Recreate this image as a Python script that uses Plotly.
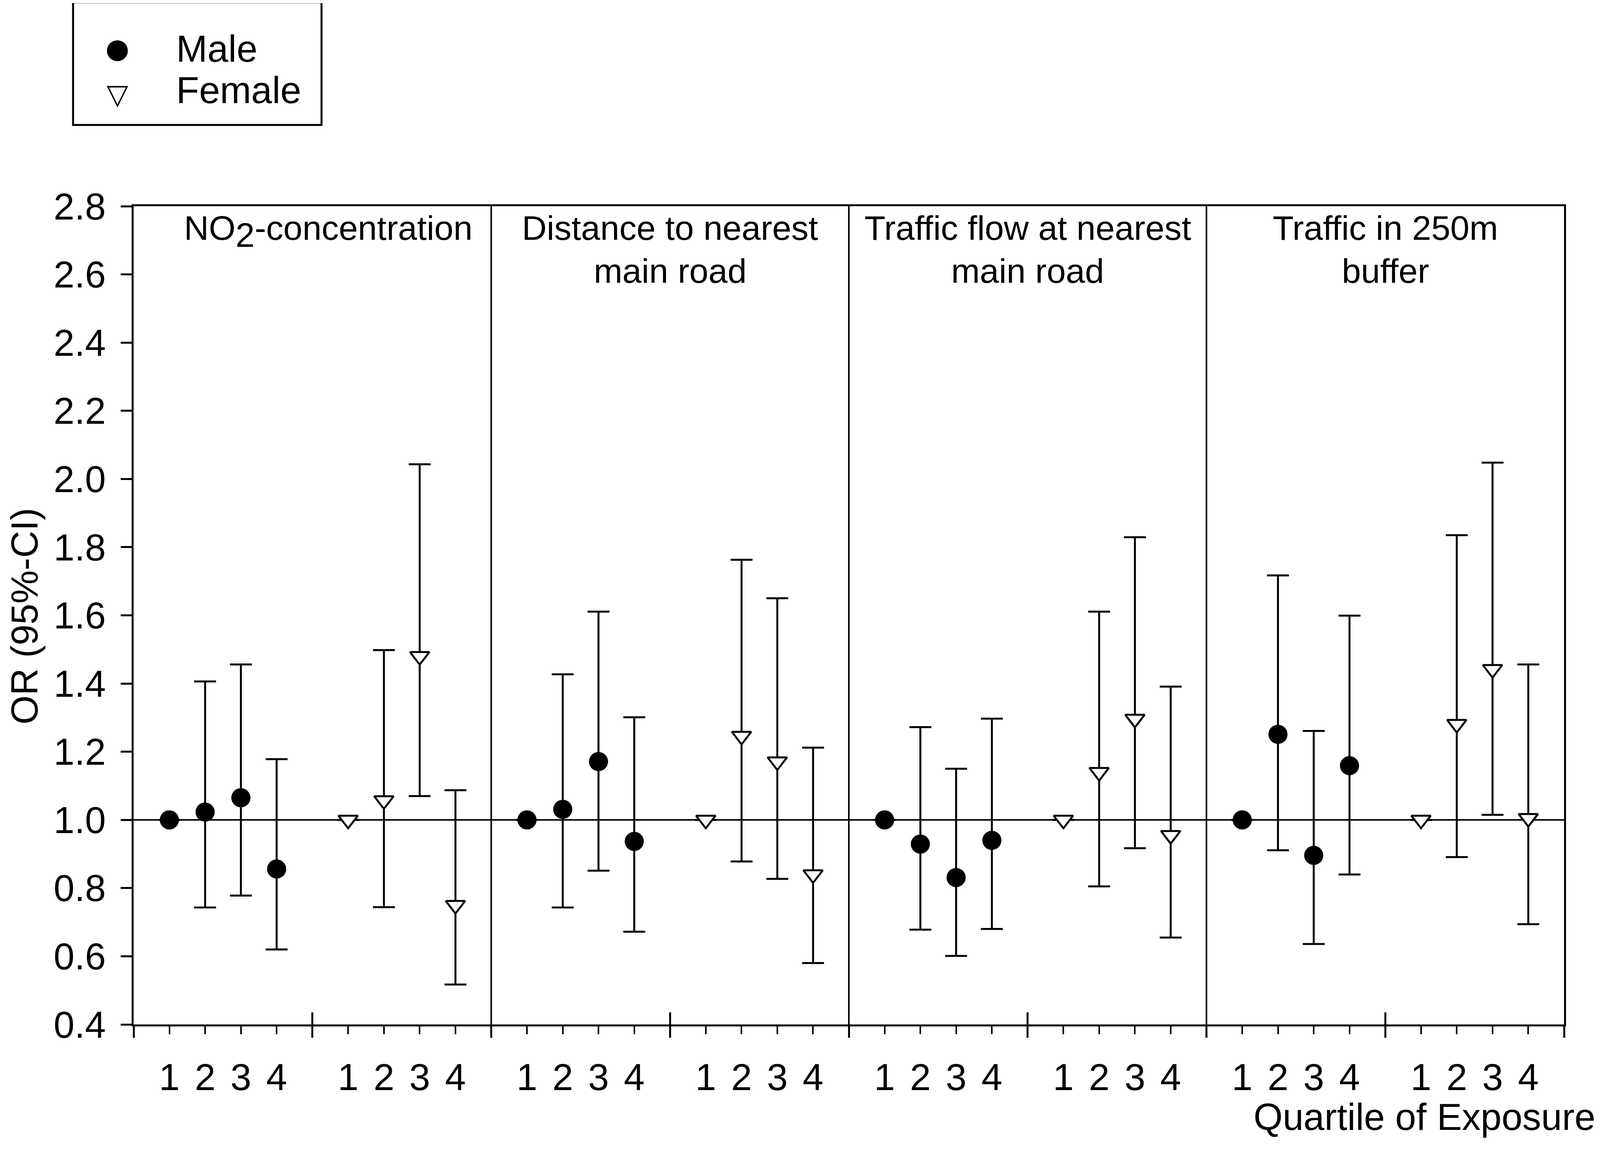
import plotly.graph_objects as go

# ---------------- data ----------------
exposures_line1 = ["NO<sub><span style=\"font-size:88px\">2</span></sub>-concentration",
                   "Distance to nearest", "Traffic flow at nearest", "Traffic in 250m"]
exposures_line2 = ["", "main road", "main road", "buffer"]
quartile_labels = ["1", "2", "3", "4"]
sexes = ["Male", "Female"]

# odds ratios per exposure (4 panels) and quartile (Q1 = reference)
male_or = [[1.00, 1.023, 1.065, 0.856],
           [1.00, 1.031, 1.171, 0.937],
           [1.00, 0.929, 0.831, 0.940],
           [1.00, 1.251, 0.896, 1.159]]
male_lo = [[None, 0.743, 0.778, 0.620],
           [None, 0.743, 0.851, 0.672],
           [None, 0.678, 0.601, 0.680],
           [None, 0.911, 0.636, 0.840]]
male_hi = [[None, 1.406, 1.456, 1.178],
           [None, 1.427, 1.611, 1.301],
           [None, 1.272, 1.150, 1.297],
           [None, 1.717, 1.261, 1.599]]

female_or = [[1.00, 1.057, 1.480, 0.750],
             [1.00, 1.246, 1.171, 0.840],
             [1.00, 1.140, 1.296, 0.955],
             [1.00, 1.281, 1.442, 1.005]]
female_lo = [[None, 0.744, 1.070, 0.517],
             [None, 0.878, 0.827, 0.580],
             [None, 0.805, 0.917, 0.655],
             [None, 0.891, 1.015, 0.694]]
female_hi = [[None, 1.498, 2.043, 1.087],
             [None, 1.763, 1.650, 1.212],
             [None, 1.611, 1.829, 1.391],
             [None, 1.835, 2.048, 1.456]]

y_ticks = [0.4, 0.6, 0.8, 1.0, 1.2, 1.4, 1.6, 1.8, 2.0, 2.2, 2.4, 2.6, 2.8]
reference_or = 1.0

# ---------------- sizing ----------------
VIEW_W = 4096                 # usable page width observed in the renderer
FX = VIEW_W / 4786            # horizontal compression versus the reference
FONT = "Arial, Liberation Sans, sans-serif"
FS = 96                       # general text size
FS_TITLE = 88                 # panel titles (must fit in the narrower panels)
n_panels = len(male_or)
group_width = 5               # one group of 4 quartiles + gap
panel_width = 2 * group_width
x_max = n_panels * panel_width


def positions(group):
    return [p * panel_width + group * group_width + q + 1
            for p in range(n_panels) for q in range(len(quartile_labels))]


def flat(rows):
    return [v for r in rows for v in r]


def err_plus(ors, his):
    return [None if h is None else h - o for o, h in zip(flat(ors), flat(his))]


def err_minus(ors, los):
    return [None if l is None else o - l for o, l in zip(flat(ors), flat(los))]


fig = go.Figure()

fig.add_trace(go.Scatter(
    x=positions(0), y=flat(male_or), mode="markers", name=sexes[0],
    marker=dict(symbol="circle", size=49, color="black", line=dict(width=0)),
    error_y=dict(type="data", symmetric=False,
                 array=err_plus(male_or, male_hi),
                 arrayminus=err_minus(male_or, male_lo),
                 color="black", thickness=5, width=28),
    showlegend=False))

fig.add_trace(go.Scatter(
    x=positions(1), y=flat(female_or), mode="markers", name=sexes[1],
    marker=dict(symbol="triangle-down", size=43, color="white",
                line=dict(width=5, color="black")),
    error_y=dict(type="data", symmetric=False,
                 array=err_plus(female_or, female_hi),
                 arrayminus=err_minus(female_or, female_lo),
                 color="black", thickness=5, width=28),
    showlegend=False))

# reference line and panel dividers
fig.add_hline(y=reference_or, line=dict(color="black", width=4), layer="below")
for p in range(1, n_panels):
    fig.add_vline(x=p * panel_width, line=dict(color="black", width=4), layer="below")

label_pos = positions(0) + positions(1)
label_txt = quartile_labels * n_panels * 2
major_pos = [k * group_width for k in range(2 * n_panels + 1)]
mid_pos = [p * panel_width + group_width for p in range(n_panels)]

common_x = dict(range=[0, x_max], showgrid=False, zeroline=False)
fig.update_layout(
    autosize=True, height=2947 - 16,
    margin=dict(l=round(400 * FX) - 8, r=round(108 * FX) - 8 + (VIEW_W - round(4786 * FX)),
                t=528 - 8, b=324 - 8, pad=0),
    paper_bgcolor="white", plot_bgcolor="white",
    font=dict(family=FONT, size=FS, color="black"),
    xaxis=dict(**common_x, tickmode="array", tickvals=label_pos, ticktext=label_txt,
               ticks="outside", ticklen=20, tickwidth=4, tickcolor="black",
               showline=True, linewidth=5, linecolor="black", mirror=True,
               tickfont=dict(size=FS), ticklabelstandoff=28),
    xaxis2=dict(**common_x, overlaying="x", anchor="y", side="bottom",
                tickmode="array", tickvals=major_pos, ticks="outside",
                ticklen=33, tickwidth=5, tickcolor="black",
                showticklabels=False, showline=False),
    xaxis3=dict(**common_x, overlaying="x", anchor="y", side="bottom",
                tickmode="array", tickvals=mid_pos, ticks="inside",
                ticklen=31, tickwidth=5, tickcolor="black",
                showticklabels=False, showline=False),
    yaxis=dict(range=[y_ticks[0], y_ticks[-1]], tickmode="array", tickvals=y_ticks,
               ticktext=[f"{v:.1f}" for v in y_ticks],
               ticks="outside", ticklen=28, tickwidth=5, tickcolor="black",
               showline=True, linewidth=5, linecolor="black", mirror=True,
               showgrid=False, zeroline=False, tickfont=dict(size=FS),
               ticklabelstandoff=19),
)

# dummy traces so the overlaying tick axes render
fig.add_trace(go.Scatter(x=[None], y=[None], xaxis="x2", showlegend=False, hoverinfo="skip"))
fig.add_trace(go.Scatter(x=[None], y=[None], xaxis="x3", showlegend=False, hoverinfo="skip"))

# panel titles
title_x = [p * panel_width + group_width for p in range(n_panels)]
title_x[0] += 0.45
title_y1 = [0.9690, 0.9733, 0.9733, 0.9733]
for tx, ty, l1, l2 in zip(title_x, title_y1, exposures_line1, exposures_line2):
    fig.add_annotation(x=tx, xref="x", y=ty, yref="paper", text=l1,
                       showarrow=False, xanchor="center", yanchor="middle",
                       font=dict(size=FS_TITLE))
    if l2:
        fig.add_annotation(x=tx, xref="x", y=0.9208, yref="paper", text=l2,
                           showarrow=False, xanchor="center", yanchor="middle",
                           font=dict(size=FS_TITLE))

# axis titles
fig.add_annotation(x=-0.0762, xref="paper", y=0.4993, yref="paper",
                   text="OR (95%-CI)", textangle=-90, showarrow=False,
                   xanchor="center", yanchor="middle", font=dict(size=FS))
fig.add_annotation(x=1.0225, xref="paper", y=-0.1131, yref="paper",
                   text="Quartile of Exposure", showarrow=False,
                   xanchor="right", yanchor="middle", font=dict(size=FS))

# legend box (framed key)
fig.add_shape(type="rect", xref="paper", yref="paper",
              x0=-0.04231, x1=0.13137, y0=1.09928, y1=1.24916,
              line=dict(color="black", width=5), fillcolor="white")
fig.add_annotation(x=-0.01122, xref="paper", y=1.1928, yref="paper", text="\u25CF",
                   showarrow=False, xanchor="center", yanchor="middle",
                   font=dict(size=70, family="DejaVu Sans"))
fig.add_annotation(x=-0.01122, xref="paper", y=1.1370, yref="paper", text="\u25BD",
                   showarrow=False, xanchor="center", yanchor="middle",
                   font=dict(size=72, family="DejaVu Sans"))
fig.add_annotation(x=0.02922, xref="paper", y=1.1928, yref="paper", text=sexes[0],
                   showarrow=False, xanchor="left", yanchor="middle", font=dict(size=FS))
fig.add_annotation(x=0.02922, xref="paper", y=1.1418, yref="paper", text=sexes[1],
                   showarrow=False, xanchor="left", yanchor="middle", font=dict(size=FS))

fig.write_html("out.html")
